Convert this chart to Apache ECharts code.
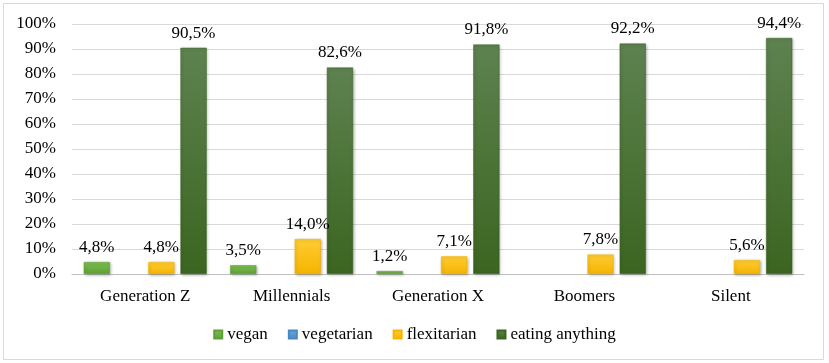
<!DOCTYPE html>
<html>
<head>
<meta charset="utf-8">
<script src="https://cdn.jsdelivr.net/npm/echarts@6/dist/echarts.min.js"></script>
<style>
  html, body { margin: 0; padding: 0; background: #fff; }
  #chart { width: 829px; height: 363px; }
</style>
</head>
<body>
<div id="chart"></div>
<script>
const categories = ['Generation Z', 'Millennials', 'Generation X', 'Boomers', 'Silent'];
const vegan = [4.8, 3.5, 1.2, 0, 0];
const vegetarian = [0, 0, 0, 0, 0];
const flexitarian = [4.8, 14.0, 7.1, 7.8, 5.6];
const eatingAnything = [90.5, 82.6, 91.8, 92.2, 94.4];

const font = '"Liberation Serif", "Times New Roman", serif';

const grad = (top, bottom) => new echarts.graphic.LinearGradient(0, 0, 0, 1, [
    { offset: 0, color: top },
    { offset: 1, color: bottom }
]);

const labelFormatter = (p) => {
    if (!p.value) return '';
    return p.value.toFixed(1).replace('.', ',') + '%';
};

// zero bars are not drawn in the original, so leave them empty
const barData = (arr) => arr.map((v) => (v === 0 ? null : v));

const makeSeries = (name, data, top, bottom, legendColor) => ({
    name: name,
    type: 'bar',
    data: barData(data),
    barGap: '23%',
    barCategoryGap: '16%',
    color: legendColor,
    itemStyle: {
        color: grad(top, bottom),
        borderColor: bottom,
        borderWidth: 0.5,
        shadowBlur: 3,
        shadowOffsetX: 1,
        shadowOffsetY: 1,
        shadowColor: 'rgba(0,0,0,0.3)'
    },
    label: {
        show: true,
        position: 'top',
        distance: 6,
        fontFamily: font,
        fontSize: 17,
        color: '#000',
        formatter: labelFormatter
    }
});

const chart = echarts.init(document.getElementById('chart'));
chart.setOption({
    animation: false,
    graphic: [{
        type: 'rect',
        shape: { x: 3.5, y: 3.5, width: 820, height: 356 },
        style: { fill: 'none', stroke: '#d9d9d9', lineWidth: 1 },
        silent: true
    }],
    grid: { left: 72, right: 25, top: 24, bottom: 89 },
    legend: {
        bottom: 15,
        left: 'center',
        itemWidth: 8,
        itemHeight: 8,
        itemGap: 20,
        icon: 'rect',
        textStyle: { fontFamily: font, fontSize: 17, color: '#000' },
        data: ['vegan', 'vegetarian', 'flexitarian', 'eating anything']
    },
    xAxis: {
        type: 'category',
        data: categories,
        axisLine: { lineStyle: { color: '#bfbfbf', width: 1 } },
        axisTick: { show: false },
        axisLabel: { fontFamily: font, fontSize: 17, color: '#000', margin: 14 }
    },
    yAxis: {
        type: 'value',
        min: 0,
        max: 100,
        interval: 10,
        axisLine: { show: false },
        axisTick: { show: false },
        splitLine: { lineStyle: { color: '#d9d9d9', width: 1 } },
        axisLabel: { fontFamily: font, fontSize: 17, color: '#000', margin: 16, formatter: '{value}%' }
    },
    series: [
        makeSeries('vegan', vegan, '#7cbf4e', '#5fa036', '#70ad47'),
        makeSeries('vegetarian', vegetarian, '#6aa8e0', '#4a88c4', '#5b9bd5'),
        makeSeries('flexitarian', flexitarian, '#ffcc33', '#f5b400', '#ffc000'),
        makeSeries('eating anything', eatingAnything, '#5e8250', '#3b6520', '#4a7a30')
    ]
});
</script>
</body>
</html>
